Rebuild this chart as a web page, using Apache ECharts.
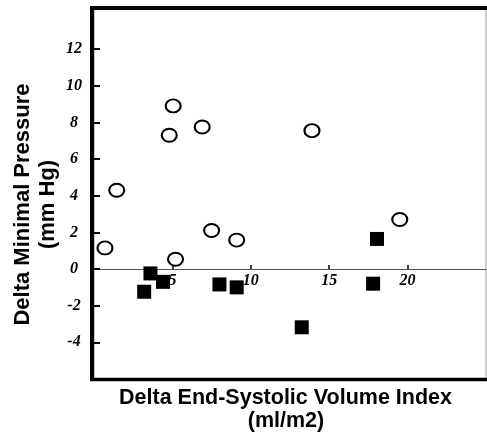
<!DOCTYPE html>
<html>
<head>
<meta charset="utf-8">
<script src="https://cdn.jsdelivr.net/npm/echarts@6/dist/echarts.min.js"></script>
<style>html,body{margin:0;padding:0;background:#fff}#c{width:487px;height:435px}</style>
</head>
<body>
<div id="c"></div>
<script>
// Open circles
const circleX = [0.7, 1.45, 4.8, 5.05, 5.2, 6.9, 7.5, 9.1, 13.9, 19.5];
const circleY = [1.15, 4.3, 7.3, 8.9, 0.53, 7.75, 2.1, 1.58, 7.55, 2.7];
// Filled squares
const squareX = [3.2, 3.6, 4.4, 8.0, 9.1, 13.25, 17.8, 18.05];
const squareY = [-1.24, -0.24, -0.7, -0.84, -1.0, -3.18, -0.8, 1.64];
// Tick labels
const xTicks = [5, 10, 15, 20];
const yTicks = [-4, -2, 0, 2, 4, 6, 8, 10, 12];
const xTitle = 'Delta End-Systolic Volume Index';
const xTitle2 = '(ml/m2)';
const yTitle = 'Delta Minimal Pressure';
const yTitle2 = '(mm Hg)';

const pairs = (xs, ys) => xs.map((x, i) => [x, ys[i]]);
const tickFont = {fontFamily: 'Liberation Serif', fontStyle: 'italic', fontWeight: 'bold', fontSize: 16, color: '#000'};
const titleFont = 'bold 21.5px "Liberation Sans"';

const Y_MIN = -6, Y_MAX = 14.24, GRID_TOP = 8, GRID_BOTTOM = 56, H = 435;
const plotH = H - GRID_TOP - GRID_BOTTOM;
const zeroOffset = plotH * (0 - Y_MIN) / (Y_MAX - Y_MIN);

const chart = echarts.init(document.getElementById('c'));
chart.setOption({
  animation: false,
  backgroundColor: '#fff',
  grid: {left: 94, right: 1, top: GRID_TOP, bottom: GRID_BOTTOM, show: true, borderColor: '#999', borderWidth: 1, backgroundColor: 'transparent'},
  xAxis: {
    type: 'value', min: 0, max: 25, offset: -zeroOffset,
    axisLine: {onZero: false, lineStyle: {color: '#555', width: 1}},
    axisTick: {inside: true, length: 4, customValues: xTicks, lineStyle: {color: '#000', width: 1.5}},
    axisLabel: Object.assign({customValues: xTicks, margin: 4}, tickFont),
    splitLine: {show: false}
  },
  yAxis: {
    type: 'value', min: Y_MIN, max: Y_MAX, offset: 2,
    axisLine: {onZero: false, lineStyle: {color: '#000', width: 4}},
    axisTick: {inside: true, length: 8, customValues: yTicks, lineStyle: {color: '#000', width: 2}},
    axisLabel: Object.assign({customValues: yTicks, margin: 18, align: 'center'}, tickFont),
    splitLine: {show: false}
  },
  graphic: [
    {type: 'line', shape: {x1: 90, y1: 8, x2: 487, y2: 8}, style: {stroke: '#000', lineWidth: 4}, z: 100},
    {type: 'line', shape: {x1: 90, y1: 379.5, x2: 487, y2: 379.5}, style: {stroke: '#000', lineWidth: 3.5}, z: 100},
    {type: 'text', x: 285.5, y: 398, style: {text: xTitle, font: titleFont, fill: '#000', textAlign: 'center', textVerticalAlign: 'middle'}},
    {type: 'text', x: 286, y: 421, style: {text: xTitle2, font: titleFont, fill: '#000', textAlign: 'center', textVerticalAlign: 'middle'}},
    {type: 'text', x: 23, y: 204.5, rotation: Math.PI / 2, style: {text: yTitle, font: 'bold 22px "Liberation Sans"', fill: '#000', textAlign: 'center', textVerticalAlign: 'middle'}},
    {type: 'text', x: 48, y: 204.5, rotation: Math.PI / 2, style: {text: yTitle2, font: 'bold 22px "Liberation Sans"', fill: '#000', textAlign: 'center', textVerticalAlign: 'middle'}}
  ],
  series: [
    {type: 'scatter', data: pairs(circleX, circleY), symbol: 'circle', symbolSize: [15, 13],
     itemStyle: {color: '#fff', borderColor: '#000', borderWidth: 2, opacity: 1}, z: 3},
    {type: 'scatter', data: pairs(squareX, squareY), symbol: 'rect', symbolSize: 14,
     itemStyle: {color: '#000', opacity: 1}, z: 4}
  ]
});
</script>
</body>
</html>
